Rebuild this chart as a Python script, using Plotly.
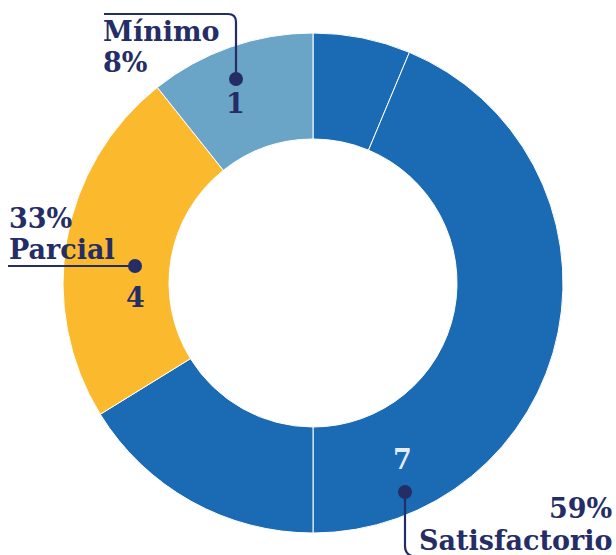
import plotly.graph_objects as go

# ---- data ----
categories = ["Satisfactorio", "Parcial", "Mínimo"]
counts = [7, 4, 1]
percents = ["59%", "33%", "8%"]

# slice values as drawn (clockwise from 12 o'clock)
slice_names = ["Satisfactorio a", "Satisfactorio b", "Satisfactorio c", "Parcial", "Mínimo"]
slice_values = [6.3, 43.7, 16.2, 23.1, 10.7]
slice_colors = ["#1a6bb4", "#1a6bb4", "#1a6bb4", "#fbba2e", "#6aa4c6"]

W, H = 616, 555
NAVY = "#252d66"
FONT = "DejaVu Serif"


def px(x):
    return x / W


def py(y):
    return 1 - y / H


fig = go.Figure(
    go.Pie(
        labels=slice_names,
        values=slice_values,
        marker=dict(colors=slice_colors, line=dict(color="white", width=1)),
        hole=0.576,
        sort=False,
        direction="clockwise",
        rotation=0,
        textinfo="none",
        hoverinfo="none",
        showlegend=False,
        domain=dict(x=[px(63), px(563)], y=[py(533), py(33)]),
    )
)

shapes = []
annotations = []


def path_shape(points_px):
    parts = []
    for cmd, *pts in points_px:
        coords = " ".join(f"{px(a):.5f},{py(b):.5f}" for a, b in zip(pts[0::2], pts[1::2]))
        parts.append(f"{cmd} {coords}")
    return dict(type="path", xref="paper", yref="paper", path=" ".join(parts),
                line=dict(color=NAVY, width=2.2), layer="above")


def dot(x, y, r=7):
    return dict(type="circle", xref="paper", yref="paper",
                x0=px(x - r), x1=px(x + r), y0=py(y + r), y1=py(y - r),
                fillcolor=NAVY, line=dict(width=0), layer="above")


def text(x, y, s, xanchor="left", size=27, color=NAVY):
    annotations.append(dict(x=px(x), y=py(y), xref="paper", yref="paper", text=s,
                            showarrow=False, xanchor=xanchor, yanchor="middle",
                            font=dict(family=FONT, size=size, color=color, weight=700)))


# Mínimo (index 2)
shapes.append(path_shape([("M", 104, 14), ("L", 228, 14), ("Q", 236, 14, 236, 22), ("L", 236, 79)]))
shapes.append(dot(236, 79))
text(101, 32, categories[2])
text(101, 63, percents[2])
text(235, 104, str(counts[2]), xanchor="center")

# Parcial (index 1)
shapes.append(path_shape([("M", 8, 266), ("L", 135, 266)]))
shapes.append(dot(135, 266))
text(7, 218, percents[1])
text(7, 249, categories[1])
text(135, 297, str(counts[1]), xanchor="center")

# Satisfactorio (index 0)
shapes.append(path_shape([("M", 405, 492), ("L", 405, 546), ("Q", 405, 554, 412, 556)]))
shapes.append(dot(405, 492))
text(614, 508, percents[0], xanchor="right")
text(614, 540, categories[0], xanchor="right")
text(402, 459, str(counts[0]), xanchor="center", color="#e4ecf6")

fig.update_layout(
    width=W, height=H,
    margin=dict(l=0, r=0, t=0, b=0),
    paper_bgcolor="white", plot_bgcolor="white",
    shapes=shapes, annotations=annotations,
)

fig.write_html("out.html", config={"displayModeBar": False},
               post_script="document.body.style.margin='0';")
